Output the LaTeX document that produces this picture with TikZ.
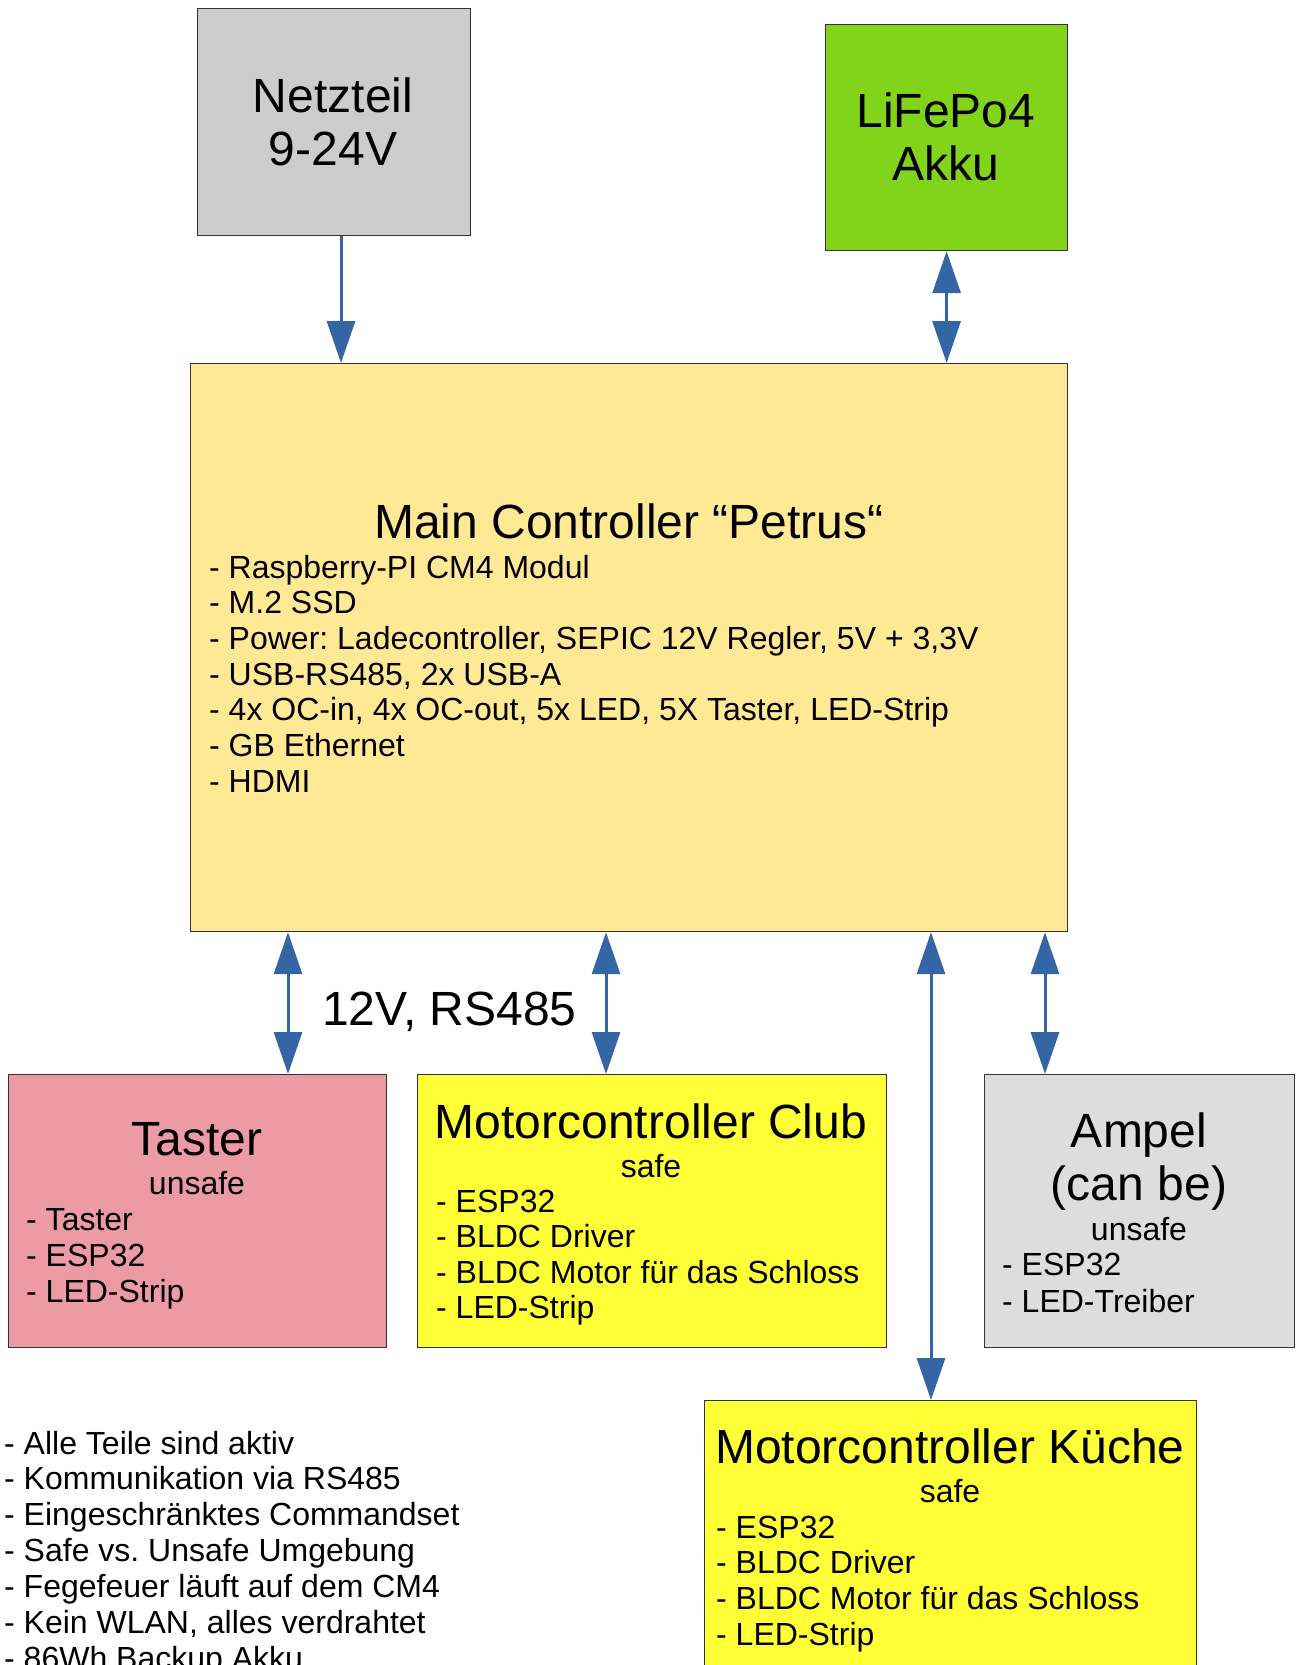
\documentclass[tikz,border=0pt]{standalone}
\usepackage{fontspec}
\setmainfont{Liberation Sans}
\usetikzlibrary{calc, arrows.meta}
\frenchspacing

\definecolor{netzgray}{HTML}{CCCCCC}
\definecolor{akkugreen}{HTML}{81D41A}
\definecolor{maingold}{HTML}{FFE994}
\definecolor{tasterred}{HTML}{EC9BA4}
\definecolor{motoryellow}{HTML}{FFFF38}
\definecolor{ampelgray}{HTML}{DDDDDD}
\definecolor{linkblue}{HTML}{3465A4}

\tikzset{
	box/.style={draw=black!80, line width=1.2pt, inner sep=0pt, anchor=north west},
	big/.style={font=\fontsize{48}{53}\selectfont, inner sep=0pt, anchor=base},
	small/.style={font=\fontsize{32}{36}\selectfont, inner sep=0pt, anchor=base},
	item/.style={small, anchor=base west},
	link/.style={draw=linkblue, line width=3pt},
	tip/.tip={Triangle[length=42pt, width=28pt]}
}

\begin{document}
\begin{tikzpicture}[x=1pt, y=-1pt]
		\useasboundingbox (0, 0) rectangle (1296, 1665);

		% boxes
		\node[box, fill=netzgray, minimum width=273, minimum height=227] (netz) at (197, 8) {};
		\node[box, fill=akkugreen, minimum width=242, minimum height=226] (akku) at (825, 24) {};
		\node[box, fill=maingold, minimum width=877, minimum height=568] (main) at (190, 363) {};
		\node[box, fill=tasterred, minimum width=378, minimum height=273] (taster) at (8, 1074) {};
		\node[box, fill=motoryellow, minimum width=469, minimum height=273] (club) at (417, 1074) {};
		\node[box, fill=ampelgray, minimum width=310, minimum height=273] (ampel) at (984, 1074) {};
		\node[box, fill=motoryellow, minimum width=492, minimum height=300] (kueche) at (704, 1400) {};

		% power supply and battery
		\node[big] (netz1) at (333, 112) {Netzteil};
		\node[big] (netz2) at (333, 165) {9-24V};
		\node[big] (akku1) at (946, 127) {LiFePo4};
		\node[big] (akku2) at (946, 180) {Akku};

		% main controller
		\node[big] (maintitle) at (629, 538) {Main Controller “Petrus“};
		\foreach \t [count=\i from 0] in {{Raspberry-PI CM4 Modul}, {M.2 SSD},
				{Power: Ladecontroller, SEPIC 12V Regler, 5V + 3,3V}, {USB-RS485, 2x USB-A},
				{4x OC-in, 4x OC-out, 5x LED, 5X Taster, LED-Strip}, {GB Ethernet}, {HDMI}}
			\node[item] (main\i) at (209, 578+35.7*\i) {- \t};

		% taster
		\node[big] (tastertitle) at (197, 1155) {Taster};
		\node[small] (tastersafe) at (197, 1194) {unsafe};
		\foreach \t [count=\i from 0] in {Taster, ESP32, LED-Strip}
			\node[item] (taster\i) at (26, 1230+36*\i) {- \t};

		% motorcontroller club
		\node[big] (clubtitle) at (651, 1138) {Motorcontroller Club};
		\node[small] (clubsafe) at (651, 1177) {safe};
		\foreach \t [count=\i from 0] in {ESP32, BLDC Driver, BLDC Motor für das Schloss, LED-Strip}
			\node[item] (club\i) at (436, 1212+35.5*\i) {- \t};

		% ampel
		\node[big] (ampel1) at (1139, 1147) {Ampel};
		\node[big] (ampel2) at (1139, 1200) {(can be)};
		\node[small] (ampelsafe) at (1139, 1240) {unsafe};
		\foreach \t [count=\i from 0] in {ESP32, LED-Treiber}
			\node[item] (ampel\i) at (1002, 1275+37*\i) {- \t};

		% motorcontroller kueche
		\node[big] (kuechetitle) at (950, 1463) {Motorcontroller Küche};
		\node[small] (kuechesafe) at (950, 1502) {safe};
		\foreach \t [count=\i from 0] in {ESP32, BLDC Driver, BLDC Motor für das Schloss, LED-Strip}
			\node[item] (kueche\i) at (716, 1538+35.7*\i) {- \t};

		% notes
		\foreach \t [count=\i from 0] in {Alle Teile sind aktiv, Kommunikation via RS485,
				Eingeschränktes Commandset, Safe vs. Unsafe Umgebung, Fegefeuer läuft auf dem CM4,
				{Kein WLAN, alles verdrahtet}, 86Wh Backup Akku}
			\node[item] (note\i) at (4, 1454+35.9*\i) {- \t};

		% connectors
		\coordinate (xnetz) at (341, 0);
		\coordinate (xtaster) at (288, 0);
		\coordinate (xclub) at (606, 0);
		\coordinate (xkueche) at (931, 0);
		\coordinate (xampel) at (1045, 0);
		\draw[link, -tip] (netz.south -| xnetz) -- (main.north -| xnetz);
		\draw[link, tip-tip] (akku.south) -- (main.north -| akku.south);
		\draw[link, tip-tip] (main.south -| xtaster) -- (taster.north -| xtaster);
		\draw[link, tip-tip] (main.south -| xclub) -- (club.north -| xclub);
		\draw[link, tip-tip] (main.south -| xkueche) -- (kueche.north -| xkueche);
		\draw[link, tip-tip] (main.south -| xampel) -- (ampel.north -| xampel);
		\node[big, anchor=base west] (bus) at (322, 1025) {12V, RS485};
\end{tikzpicture}
\end{document}
